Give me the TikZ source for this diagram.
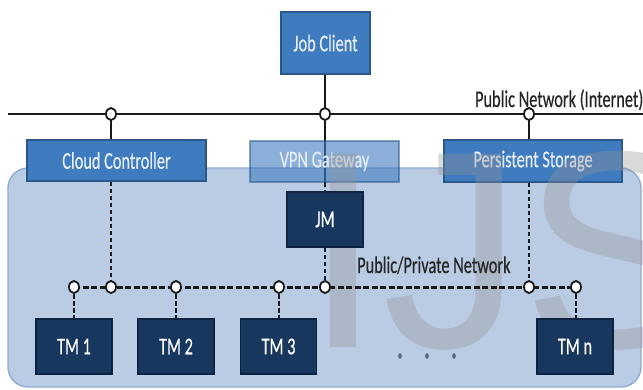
\documentclass[tikz,border=0pt]{standalone}
\usepackage{fontspec}
\usepackage{graphicx}
\usetikzlibrary{shapes.geometric}
\newfontfamily\labelfont[FakeBold=0.5]{Carlito}
\newfontfamily\markfont{Liberation Sans}
% labels are set narrow, as in the original slide
\newcommand\sqz[1]{\scalebox{0.68}[1]{#1}}
\definecolor{boxblue}{RGB}{62,123,191}
\definecolor{boxedge}{RGB}{42,88,140}
\definecolor{navy}{RGB}{23,55,94}
\definecolor{navyedge}{RGB}{12,36,64}
\definecolor{netfill}{RGB}{185,204,228}
\definecolor{netedge}{RGB}{143,172,210}
\definecolor{wire}{RGB}{26,26,26}
\definecolor{labelgray}{RGB}{38,38,38}
\definecolor{markgray}{RGB}{150,150,150}
\definecolor{dotgray}{RGB}{90,102,120}
\definecolor{boxtext}{RGB}{232,239,248}
\pgfdeclarelayer{netlayer}
\pgfdeclarelayer{underlayer}
\pgfdeclarelayer{boxlayer}
\pgfdeclarelayer{marklayer}
\pgfsetlayers{netlayer,underlayer,boxlayer,marklayer,main}
\tikzset{
  txt/.style={font={\labelfont\fontsize{24}{26}\selectfont}},
  svc/.style={txt, draw=boxedge, line width=1.8pt, fill=boxblue, text=boxtext, inner sep=0pt},
  vpnbox/.style={svc, fill opacity=0.6, draw opacity=0.55, text opacity=0.95},
  mgr/.style={txt, draw=navyedge, line width=1.8pt, fill=navy, text=white, inner sep=0pt,
    minimum width=76pt, minimum height=55pt},
  port/.style={ellipse, draw=wire, line width=1.8pt, fill=white, minimum width=10pt,
    minimum height=12pt, inner sep=0pt},
  pubwire/.style={draw=wire, line width=2.6pt},
  lanwire/.style={draw=wire, line width=3pt, dash pattern=on 6pt off 2.5pt},
  dropwire/.style={draw=wire, line width=2.4pt, dash pattern=on 4.5pt off 2.5pt},
  netlabel/.style={txt, text=labelgray, inner sep=0pt},
}
\begin{document}
\begin{tikzpicture}[x=1pt,y=-1pt]
\useasboundingbox (0,0) rectangle (643,389);

% page and private cloud area
\begin{pgfonlayer}{netlayer}
  \fill[white] (0,0) rectangle (643,389);
  \node[draw=netedge, line width=1.4pt, fill=netfill, rounded corners=20pt,
    minimum width=633pt, minimum height=219pt, inner sep=0pt] (cloudnet) at (324.5,277.5) {};
\end{pgfonlayer}

% front-end services
\begin{pgfonlayer}{boxlayer}
  \node[svc, minimum width=89pt, minimum height=62pt] (jc) at (325.5,43) {\sqz{Job Client}};
  \node[svc, minimum width=179pt, minimum height=41pt] (cc) at (116.5,160.5) {\sqz{Cloud Controller}};
  \node[vpnbox, minimum width=149pt, minimum height=41pt] (vpn) at (324.5,161.5) {\sqz{VPN Gateway}};
  \node[svc, minimum width=178pt, minimum height=42pt] (ps) at (533,161) {\sqz{Persistent Storage}};
\end{pgfonlayer}

% watermark
\begin{pgfonlayer}{marklayer}
  \node[anchor=base west, inner sep=0pt, text=markgray, text opacity=0.36,
    font={\markfont\fontsize{281}{281}\selectfont}] (ijs) at (304,347) {IJS};
\end{pgfonlayer}

% job manager and task managers
\node[mgr] (jm) at (325,219.5) {\sqz{JM}};
\node[mgr] (tm1) at (74,346.5) {\sqz{TM 1}};
\node[mgr] (tm2) at (176,346.5) {\sqz{TM 2}};
\node[mgr] (tm3) at (278.5,346.5) {\sqz{TM 3}};
\node[mgr] (tmn) at (575,346.5) {\sqz{TM n}};

% network attachment points
\coordinate (pubW) at (8,114);
\coordinate (pubE) at (643,114);
\coordinate (p1) at (111,114);
\coordinate (p2) at (325,114);
\coordinate (p3) at (529,114);
\coordinate (q1) at (74,287);
\coordinate (q2) at (111,287);
\coordinate (q3) at (176,287);
\coordinate (q4) at (279,287);
\coordinate (q5) at (325,287);
\coordinate (q6) at (529,287);
\coordinate (q7) at (576,287);

% public network
\draw[pubwire] (pubW) -- (pubE);
\draw[pubwire] (p2 |- jc.south) -- (p2);
\draw[pubwire] (p1) -- (p1 |- cc.north);
\draw[pubwire] (p3) -- (p3 |- ps.north);
\begin{pgfonlayer}{underlayer}
  \draw[pubwire] (p2) -- (p2 |- vpn.south);
\end{pgfonlayer}

% public/private network
\draw[dropwire] (p2 |- vpn.south) -- (p2 |- jm.north);
\draw[dropwire] (p2 |- jm.south) -- (q5);
\draw[dropwire] (q2 |- cc.south) -- (q2);
\draw[dropwire] (q6 |- ps.south) -- (q6);
\draw[lanwire] (q1) -- (q7);
\draw[dropwire] (q1) -- (q1 |- tm1.north);
\draw[dropwire] (q3) -- (q3 |- tm2.north);
\draw[dropwire] (q4) -- (q4 |- tm3.north);
\draw[dropwire] (q7) -- (q7 |- tmn.north);

% ports
\foreach \p in {p1,p2,p3,q1,q2,q3,q4,q5,q6,q7}
  \node[port] at (\p) {};

% more task managers
\foreach \x in {400,427,454}
  \fill[dotgray] (\x,356) ellipse [x radius=1.8pt, y radius=2.8pt];

% network labels
\node[netlabel, anchor=base east] (publbl) at (643.5,107) {\sqz{Public Network (Internet)}};
\node[netlabel, anchor=base west] (privlbl) at (357,273) {\sqz{Public/Private Network}};
\end{tikzpicture}
\end{document}
